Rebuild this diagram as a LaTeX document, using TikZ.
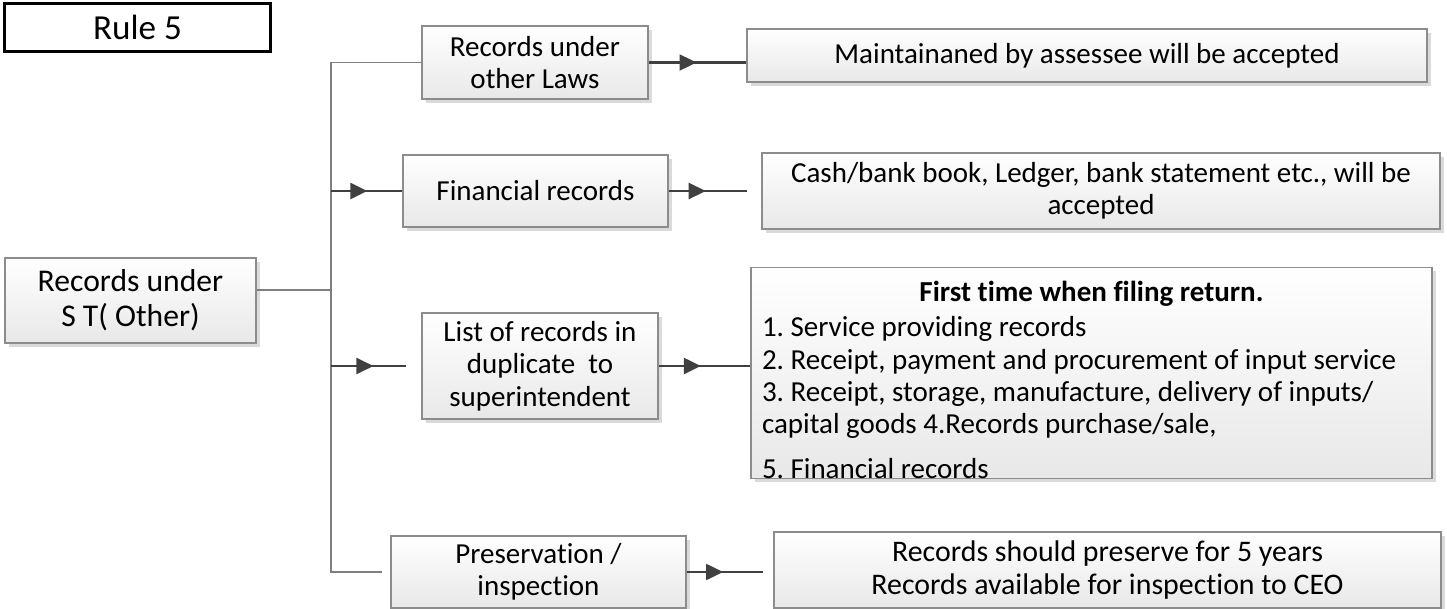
\documentclass[tikz,border=0pt]{standalone}
\usepackage{fontspec}
\setmainfont{Carlito}[Ligatures={TeX,NoCommon}]
\usetikzlibrary{positioning,arrows.meta,decorations.markings,shadows}
\definecolor{edgeGray}{HTML}{8C8C8C}
\definecolor{busGray}{HTML}{7F7F7F}
\definecolor{arrowDark}{HTML}{404040}
\definecolor{boxTop}{HTML}{FFFFFF}
\definecolor{boxBottom}{HTML}{E8E8E8}
\definecolor{shadeGray}{HTML}{DADADA}
\tikzset{
    panel/.style={draw=edgeGray,line width=0.8pt,top color=boxTop,bottom color=boxBottom,
        drop shadow={shadow xshift=0.07cm,shadow yshift=-0.07cm,fill=shadeGray,opacity=1},
        align=center,inner sep=2pt,font=\fontsize{16.5}{18.4}\selectfont},
    rulebox/.style={draw=black,line width=1.7pt,fill=white,align=center,
        inner sep=2pt,font=\fontsize{20}{24}\selectfont},
    bus/.style={draw=busGray,line width=0.8pt},
    feed/.style={draw=arrowDark,line width=1.3pt,postaction={decorate},
        decoration={markings,mark=at position #1 with
            {\arrow[arrowDark]{Triangle[length=0.34cm,width=0.32cm]}}}},
    feed/.default=0.5
}
\frenchspacing
\begin{document}
\begin{tikzpicture}
    \useasboundingbox (0,0) rectangle (28.94,-12.18);
    % title and root
    \node[rulebox,minimum width=5.32cm,minimum height=0.96cm] (rule) at (2.75,-0.55) {Rule 5};
    \node[panel,minimum width=5.02cm,minimum height=1.70cm,
        font=\fontsize{18}{19.8}\selectfont] (root) at (2.61,-6.01)
        {Records under\\S T( Other)};

    % middle column
    \node[panel,minimum width=4.52cm,minimum height=1.46cm] (laws) at (10.70,-1.25)
        {Records under\\other Laws};
    \node[panel,minimum width=5.30cm,minimum height=1.44cm] (fin) at (10.71,-3.82)
        {Financial records};
    \node[panel,minimum width=4.72cm,minimum height=2.12cm] (list) at (10.80,-7.32)
        {List of records in\\duplicate~ to\\superintendent};
    \node[panel,minimum width=5.90cm,minimum height=1.44cm] (keep) at (10.77,-11.44)
        {Preservation /\\inspection};

    % right column
    \node[panel,minimum width=13.60cm,minimum height=1.06cm] (accept) at (21.74,-1.11)
        {Maintainaned by assessee will be accepted};
    \node[panel,minimum width=13.56cm,minimum height=1.52cm] (ledger) at (22.02,-3.82)
        {Cash/bank book, Ledger, bank statement etc., will be\\accepted};
    \node[panel,minimum width=13.62cm,minimum height=4.20cm,inner sep=0pt,
        align=left] (duties) at (21.83,-7.46)
        {\rule{0pt}{0.68cm}\makebox[13.18cm]{\bfseries First time when filing return.}\\[0.06cm]
        1. Service providing records\\
        2. Receipt, payment and procurement of input service\\
        3. Receipt, storage, manufacture, delivery of inputs/\\
        capital goods 4.Records purchase/sale,\\[0.24cm]
        5. Financial records};
    \node[panel,minimum width=13.34cm,minimum height=1.52cm,
        font=\fontsize{17}{18.4}\selectfont] (preserve) at (22.15,-11.40)
        {Records should preserve for 5 years\\Records available for inspection to CEO};

    % bus from the root
    \coordinate (hub) at (6.62,-5.80);
    \draw[bus] (hub -| root.east) -- (hub);
    \draw[bus,shorten >=0.16cm] (laws.west) -- (laws.west -| hub) |- (keep.west);
    \draw[feed=0.51] (fin.west -| hub) -- (fin.west);
    \draw[feed=0.47,shorten >=0.3cm] (list.west -| hub) -- (list.west);

    % connectors to the right column
    \draw[feed=0.49] (laws.east) -- (laws.east -| accept.west);
    \draw[feed=0.40,shorten >=0.28cm] (fin.east) -- (ledger.west);
    \draw[feed=0.46] (list.east) -- (list.east -| duties.west);
    \draw[feed=0.42,shorten >=0.2cm] (keep.east) -- (keep.east -| preserve.west);
\end{tikzpicture}
\end{document}
